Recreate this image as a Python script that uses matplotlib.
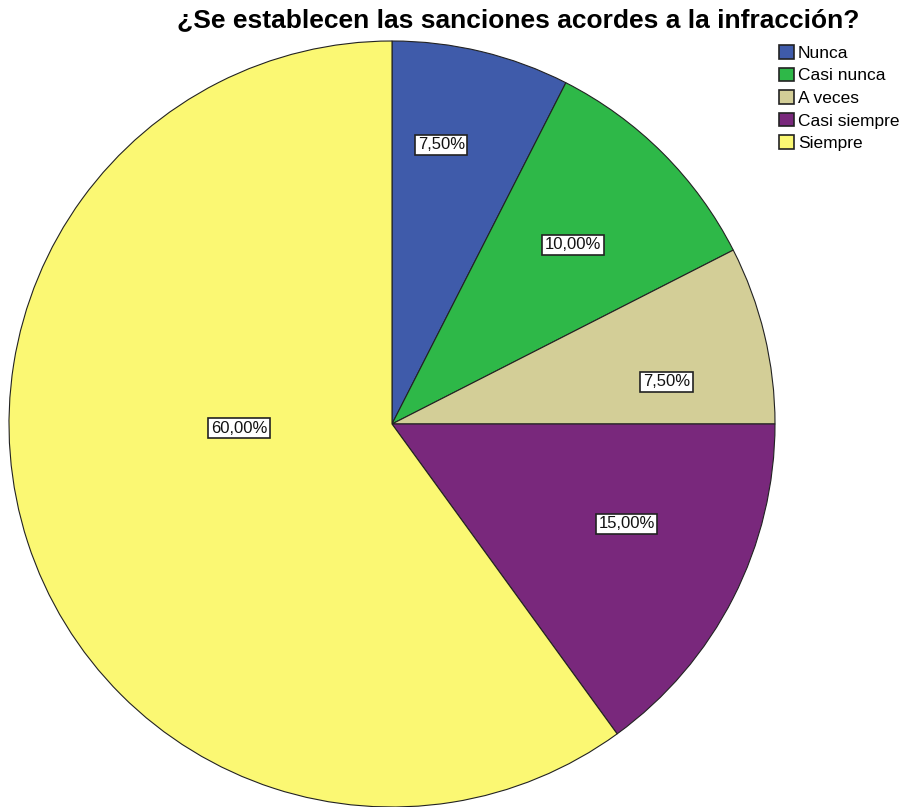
import numpy as np
import matplotlib
matplotlib.use("Agg")
import matplotlib.pyplot as plt

plt.rcParams['font.family'] = ['Liberation Sans', 'DejaVu Sans']

categories = ["Nunca", "Casi nunca", "A veces", "Casi siempre", "Siempre"]
values = [7.5, 10.0, 7.5, 15.0, 60.0]
colors = ["#3F5BAA", "#2EB848", "#D3CE97", "#79287C", "#FBF873"]
# label placement (angle in degrees, fraction of radius) as SPSS put them
label_angle = [80.0, 44.7, 8.7, -23.0, 181.5]
label_dist = [0.74, 0.665, 0.725, 0.665, 0.40]

fig = plt.figure(figsize=(9.09, 8.07), dpi=100)
ax = fig.add_axes([9 / 909, 0, 766 / 909, 766 / 807])

wedges, _ = ax.pie(values, colors=colors, startangle=90, counterclock=False,
                   radius=1, wedgeprops=dict(edgecolor="#222222", linewidth=0.8))
ax.set_xlim(-1, 1)
ax.set_ylim(-1, 1)
ax.set_aspect("equal")

for v, a, d in zip(values, label_angle, label_dist):
    ang = np.deg2rad(a)
    ax.text(d * np.cos(ang), d * np.sin(ang), f"{v:.2f}%".replace(".", ","),
            ha="center", va="center", fontsize=12, color="#111111",
            bbox=dict(boxstyle="square,pad=0.15", fc="white", ec="#222222", lw=1.2))

fig.text(0.57, 0.975, "¿Se establecen las sanciones acordes a la infracción?",
         ha="center", va="center", fontsize=19, fontweight="bold")

leg = fig.legend(wedges, categories, loc="upper left", bbox_to_anchor=(779 / 909, 1 - 45 / 807),
                 frameon=False, fontsize=12.5, handlelength=0.85, handleheight=0.85,
                 handletextpad=0.25, labelspacing=0.38, borderaxespad=0, borderpad=0)
for h in leg.legend_handles:
    h.set_edgecolor("#222222")
    h.set_linewidth(1.2)

fig.savefig("out.png", dpi=100)
